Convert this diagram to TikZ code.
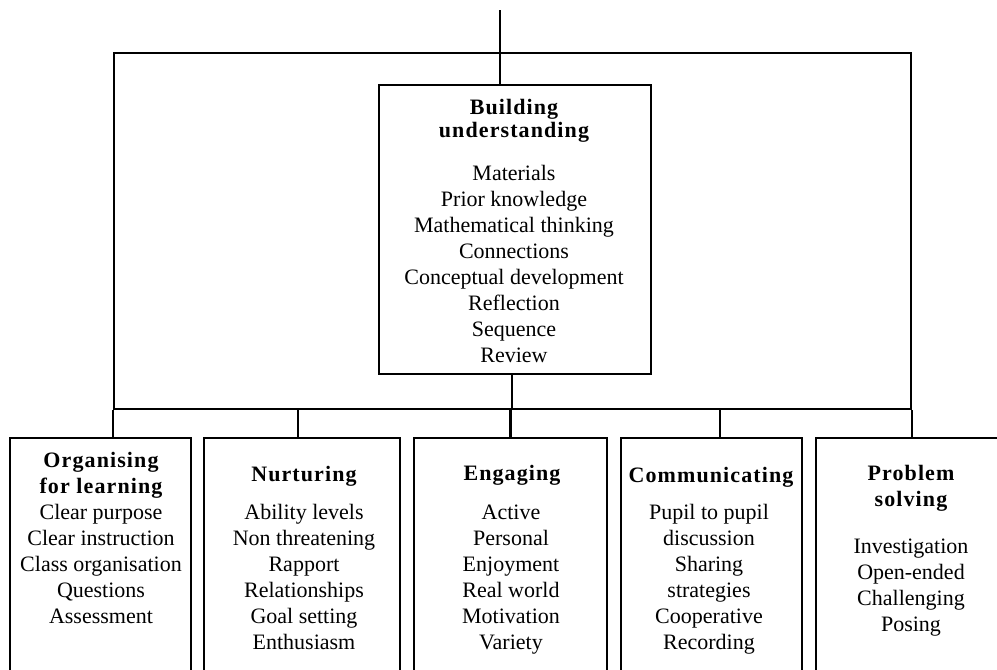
\documentclass[tikz,border=0pt]{standalone}
\usepackage{fontspec}
\setmainfont{Liberation Serif}
\newfontfamily\hdfont[LetterSpace=5]{Liberation Serif}
\begin{document}
\begin{tikzpicture}[x=1pt,y=-1pt,line width=2.4pt,
  box/.style={draw,rectangle,inner sep=0pt,minimum width=#1,minimum height=282pt},
  tx/.style={align=center,anchor=base,inner sep=0pt,font=\fontsize{22}{26}\selectfont},
  hd/.style={align=center,anchor=base,inner sep=0pt,font=\hdfont\bfseries\fontsize{22}{26}\selectfont}]
\useasboundingbox (0,0) rectangle (997,670);
\clip (0,0) rectangle (997,670);
% frames
\node[draw,rectangle,inner sep=0pt,minimum width=797pt,minimum height=356pt] (outer) at (512.5,231) {};
\node[draw,rectangle,inner sep=0pt,minimum width=272pt,minimum height=289pt] (build) at (515,229.5) {};
\node[box=181pt] (org) at (100.5,579) {};
\node[box=196pt] (nur) at (302,579) {};
\node[box=193pt] (eng) at (510.5,579) {};
\node[box=181pt] (com) at (711.5,579) {};
\node[box=194pt] (pro) at (913,579) {};
\coordinate (top) at (500,10);
% connectors
\draw (top) -- (top |- build.north);
\draw ([xshift=-3pt]build.south) -- ([xshift=-3pt]build.south |- outer.south);
\draw (outer.south west) -- (outer.south west |- org.north);
\draw ([xshift=-4pt]nur.north) -- ([xshift=-4pt]nur.north |- outer.south);
\draw (eng.north) -- (eng.north |- outer.south);
\draw ([xshift=8.5pt]com.north) -- ([xshift=8.5pt]com.north |- outer.south);
\draw (outer.south east) -- (outer.south east |- pro.north);
% texts (anchored at the baseline of their last line)
\node[hd,font=\hdfont\bfseries\fontsize{22}{23}\selectfont] (buildh) at (514,137) {Building\\understanding};
\node[tx] (buildt) at (514,362) {Materials\\Prior knowledge\\Mathematical thinking\\Connections\\Conceptual development\\Reflection\\Sequence\\Review};
\node[hd] (orgh) at (101,493) {Organising\\for learning};
\node[tx] (orgt) at (101,623) {Clear purpose\\Clear instruction\\Class organisation\\Questions\\Assessment};
\node[hd] (nurh) at (304,481) {Nurturing};
\node[tx] (nurt) at (304,649) {Ability levels\\Non threatening\\Rapport\\Relationships\\Goal setting\\Enthusiasm};
\node[hd] (engh) at (512,480) {Engaging};
\node[tx] (engt) at (511,649) {Active\\Personal\\Enjoyment\\Real world\\Motivation\\Variety};
\node[hd] (comh) at (711,482) {Communicating};
\node[tx] (comt) at (709,649) {Pupil to pupil\\discussion\\Sharing\\strategies\\Cooperative\\Recording};
\node[hd] (proh) at (911,506) {Problem\\solving};
\node[tx] (prot) at (911,631) {Investigation\\Open-ended\\Challenging\\Posing};
\end{tikzpicture}
\end{document}
